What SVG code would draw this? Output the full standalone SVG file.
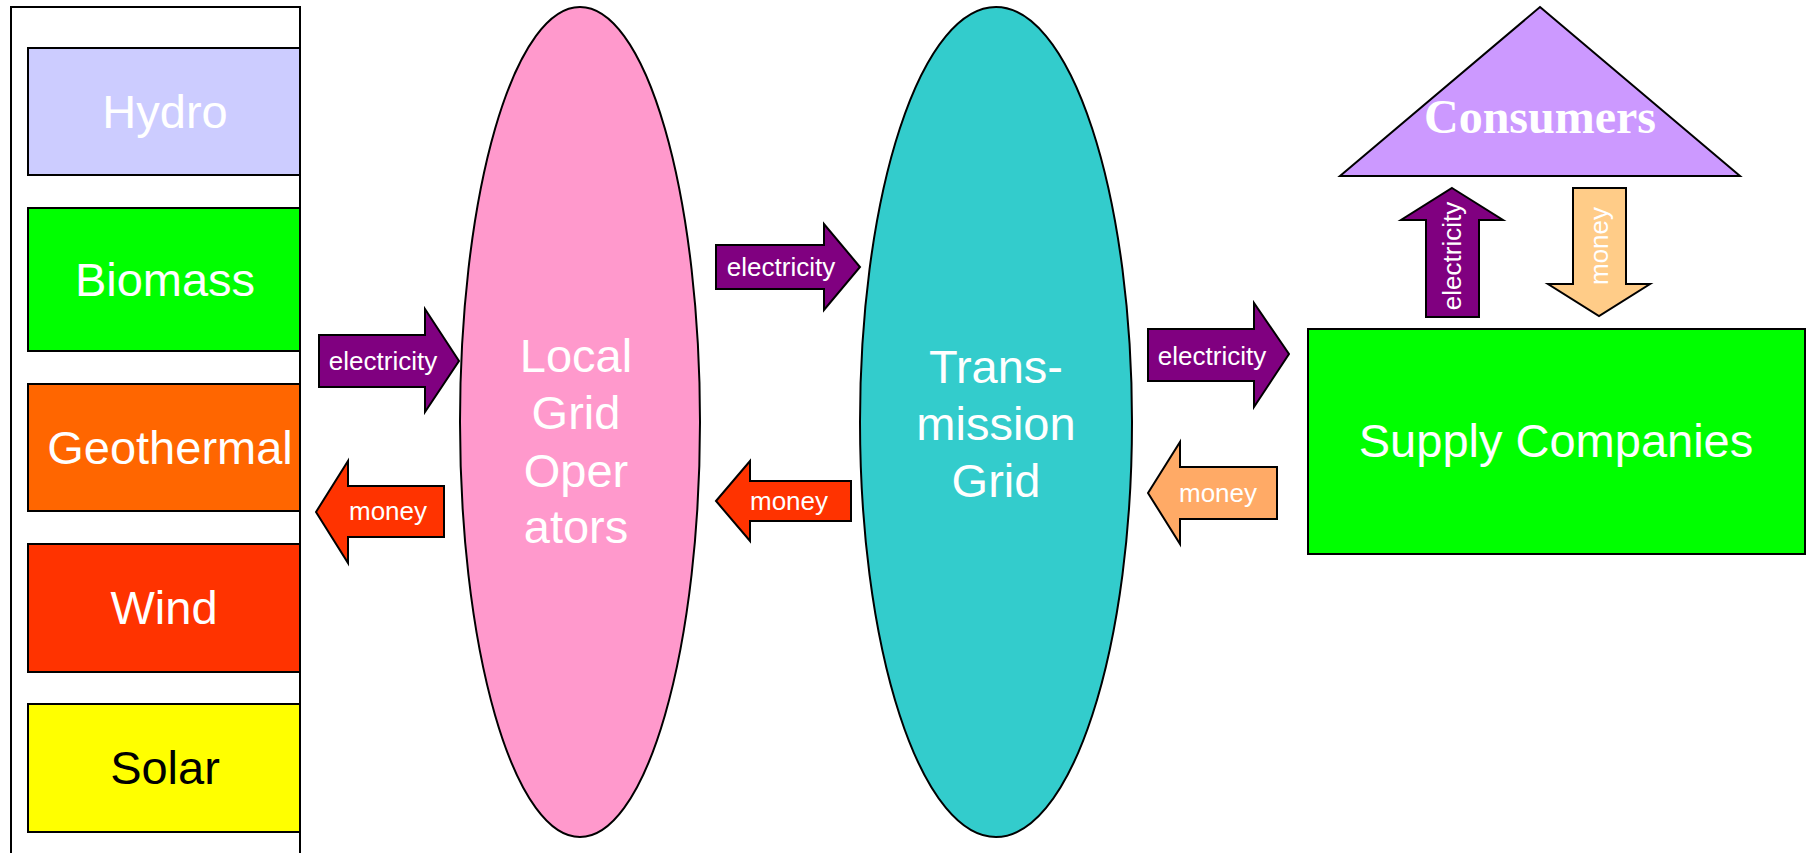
<svg xmlns="http://www.w3.org/2000/svg" width="1806" height="853" viewBox="0 0 1806 853">
<style>
.big{font-family:"Liberation Sans",Arial,sans-serif;font-size:47px;fill:#fff;text-anchor:middle}
.lbl{font-family:"Liberation Sans",Arial,sans-serif;font-size:26px;fill:#fff;text-anchor:middle}
.box{stroke:#000;stroke-width:2}
.arr{stroke:#000;stroke-width:2;stroke-linejoin:miter}
.elec{fill:#800080}
</style>
<rect width="1806" height="853" fill="#fff"/>
<g id="sources">
<rect x="11" y="7" width="289" height="860" fill="#fff" class="box"/>
</g>
<g id="hydro"><rect x="28" y="48" width="272" height="127" fill="#CCCCFF" class="box"/><text class="big" x="165" y="128">Hydro</text></g>
<g id="biomass"><rect x="28" y="208" width="272" height="143" fill="#00FF00" class="box"/><text class="big" x="165" y="296">Biomass</text></g>
<g id="geothermal"><rect x="28" y="384" width="272" height="127" fill="#FF6600" class="box"/><text class="big" x="170" y="464">Geothermal</text></g>
<g id="wind"><rect x="28" y="544" width="272" height="128" fill="#FF3300" class="box"/><text class="big" x="164" y="624">Wind</text></g>
<g id="solar"><rect x="28" y="704" width="272" height="128" fill="#FFFF00" class="box"/><text class="big" x="165" y="784" style="fill:#000">Solar</text></g>
<g id="local-grid"><ellipse cx="580" cy="422" rx="120" ry="415" fill="#FF99CC" class="box"/>
<text class="big" x="576"><tspan x="576" y="372">Local</tspan><tspan x="576" y="429">Grid</tspan><tspan x="576" y="487">Oper</tspan><tspan x="576" y="543">ators</tspan></text></g>
<g id="transmission-grid"><ellipse cx="996" cy="422" rx="136" ry="415" fill="#33CCCC" class="box"/>
<text class="big"><tspan x="996" y="383">Trans-</tspan><tspan x="996" y="440">mission</tspan><tspan x="996" y="497">Grid</tspan></text></g>
<g id="consumers"><polygon points="1540,7 1740,176 1340,176" fill="#CC99FF" class="box"/>
<text x="1540" y="133" style="font-family:'Liberation Serif','Times New Roman',serif;font-weight:bold;font-size:48px;fill:#fff;text-anchor:middle">Consumers</text></g>
<g id="supply-companies"><rect x="1308" y="329" width="497" height="225" fill="#00FF00" class="box"/><text class="big" x="1556" y="457">Supply Companies</text></g>
<g id="connectors">
<g><polygon class="arr elec" points="319,335 425,335 425,309 459,361 425,412 425,387 319,387"/><text class="lbl" x="383" y="370">electricity</text></g>
<g><polygon class="arr" fill="#FF3300" points="316,512 348,461 348,486 444,486 444,537 348,537 348,563"/><text class="lbl" x="388" y="520">money</text></g>
<g><polygon class="arr elec" points="716,245 824,245 824,224 860,267 824,310 824,289 716,289"/><text class="lbl" x="781" y="276">electricity</text></g>
<g><polygon class="arr" fill="#FF3300" points="716,501 750,461 750,481 851,481 851,521 750,521 750,541"/><text class="lbl" x="789" y="510">money</text></g>
<g><polygon class="arr elec" points="1148,329 1254,329 1254,303 1289,354 1254,407 1254,381 1148,381"/><text class="lbl" x="1212" y="365">electricity</text></g>
<g><polygon class="arr" fill="#FFAA66" points="1148,493 1180,442 1180,467 1277,467 1277,519 1180,519 1180,544"/><text class="lbl" x="1218" y="502">money</text></g>
<g><polygon class="arr elec" points="1452,188 1503,220 1479,220 1479,317 1426,317 1426,220 1401,220"/><text class="lbl" transform="translate(1461,256) rotate(-90)">electricity</text></g>
<g><polygon class="arr" fill="#FFCC88" points="1573,188 1626,188 1626,284 1650,284 1599,316 1548,284 1573,284"/><text class="lbl" transform="translate(1608,246) rotate(-90)">money</text></g>
</g>
</svg>
